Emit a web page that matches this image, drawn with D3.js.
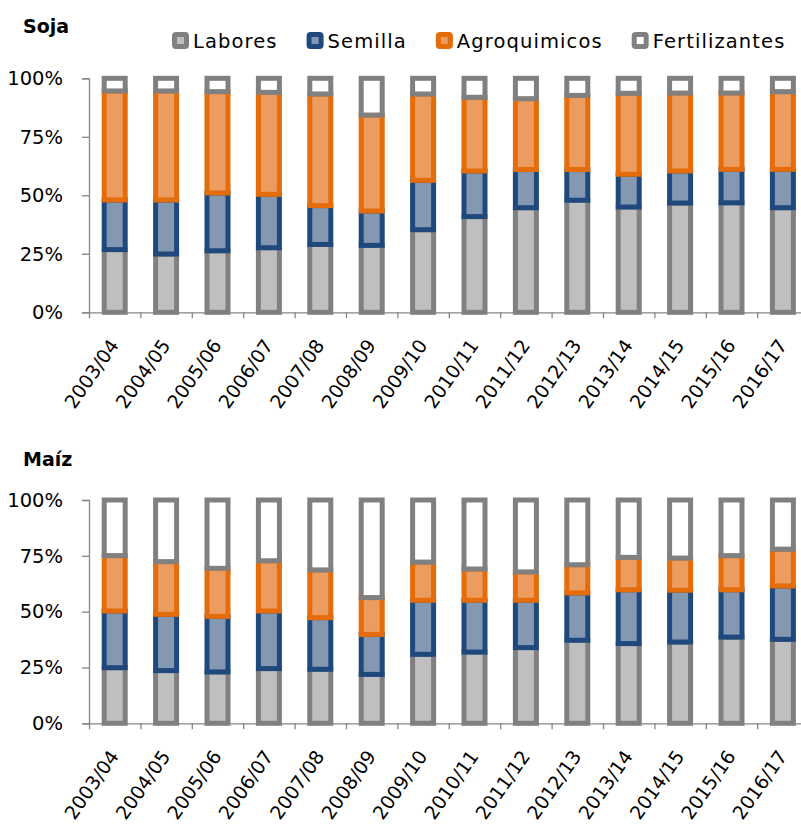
<!DOCTYPE html>
<html>
<head>
<meta charset="utf-8">
<script src="https://cdn.jsdelivr.net/npm/d3@7"></script>
<style>
  body { margin: 0; background: #fff; }
  svg { display: block; font-family: "DejaVu Sans", Verdana, sans-serif; }
</style>
</head>
<body>
<svg id="chart" width="801" height="825"></svg>
<script>
// Campaigns (x categories)
const campaigns = ["2003/04","2004/05","2005/06","2006/07","2007/08","2008/09","2009/10",
                   "2010/11","2011/12","2012/13","2013/14","2014/15","2015/16","2016/17"];

// Cost components, bottom to top
const components = ["Labores","Semilla","Agroquimicos","Fertilizantes"];

// Soja: share of each component (%)
const sojaLabores       = [26.8, 24.9, 26.3, 27.6, 29.0, 28.6, 35.3, 40.9, 44.7, 47.9, 45.0, 46.7, 46.8, 44.7];
const sojaSemilla       = [21.2, 23.1, 24.7, 22.8, 16.6, 14.7, 21.1, 19.5, 16.3, 13.1, 14.0, 13.7, 14.3, 16.4];
const sojaAgroquimicos  = [46.6, 46.6, 43.3, 43.6, 47.7, 41.0, 36.9, 31.5, 30.3, 31.7, 34.6, 33.3, 32.6, 33.2];
const sojaFertilizantes = [ 5.4,  5.4,  5.7,  6.0,  6.7, 15.7,  6.7,  8.1,  8.7,  7.3,  6.4,  6.3,  6.3,  5.7];

// Maíz: share of each component (%)
const maizLabores       = [24.9, 23.6, 23.0, 24.5, 24.2, 21.9, 30.9, 31.9, 33.9, 37.2, 35.7, 36.4, 38.6, 37.6];
const maizSemilla       = [25.4, 25.2, 24.9, 25.8, 23.1, 17.9, 24.2, 23.2, 21.2, 21.2, 24.1, 23.2, 21.2, 23.9];
const maizAgroquimicos  = [24.8, 23.6, 21.5, 22.5, 21.4, 16.5, 17.1, 14.0, 12.7, 12.6, 14.5, 14.4, 15.3, 16.5];
const maizFertilizantes = [24.9, 27.6, 30.6, 27.2, 31.3, 43.7, 27.8, 30.9, 32.2, 29.0, 25.7, 26.0, 24.9, 22.0];

// Y axis ticks
const yTicks = [0, 25, 50, 75, 100];

// Colours per component: border and fill
const strokeColors = ["#808080", "#1f497d", "#e46c0a", "#808080"];
const fillColors   = ["#bfbfbf", "#8598b2", "#eb9c5e", "#ffffff"];

const svg = d3.select("#chart");
const axisColor = "#868686";

function rows(lab, sem, agr, fer) {
  return campaigns.map((c, i) => ({
    campaign: c,
    Labores: lab[i], Semilla: sem[i], Agroquimicos: agr[i], Fertilizantes: fer[i]
  }));
}

const panels = [
  { title: "Soja", titleY: 33,  top: 78.3, bottom: 312.3,
    data: rows(sojaLabores, sojaSemilla, sojaAgroquimicos, sojaFertilizantes) },
  { title: "Maíz", titleY: 466, top: 500,  bottom: 723.3,
    data: rows(maizLabores, maizSemilla, maizAgroquimicos, maizFertilizantes) }
];

const left = 89, step = 51.4;
const x = d3.scaleBand().domain(campaigns).range([left, left + step * campaigns.length]).padding(0);
const xEdge = d3.scaleLinear().domain([0, campaigns.length]).range(x.range());
const barW = 21, barStroke = 5;

const stack = d3.stack().keys(components);

panels.forEach(p => {
  const y = d3.scaleLinear().domain([0, 100]).range([p.bottom, p.top]);
  const g = svg.append("g");

  g.append("text")
    .attr("x", 23).attr("y", p.titleY)
    .attr("font-size", 19).attr("font-weight", "bold").attr("fill", "#000")
    .text(p.title);

  // Y axis
  const yAxis = g.append("g")
    .attr("transform", `translate(${left},0)`)
    .call(d3.axisLeft(y).tickValues(yTicks).tickSize(7).tickPadding(19)
      .tickFormat(d => d + "%"));
  yAxis.selectAll("path, line").attr("stroke", axisColor).attr("stroke-width", 1.3);
  yAxis.selectAll("text").attr("font-size", 19.5).attr("fill", "#000")
    .attr("font-family", "DejaVu Sans, sans-serif");

  // X axis: ticks sit between campaigns
  const xAxis = g.append("g")
    .attr("transform", `translate(0,${p.bottom})`)
    .call(d3.axisBottom(xEdge).tickValues(d3.range(campaigns.length + 1))
      .tickSize(6).tickSizeOuter(0).tickFormat(""));
  xAxis.selectAll("path, line").attr("stroke", axisColor).attr("stroke-width", 1.3);

  // Campaign labels
  g.append("g").selectAll("text").data(campaigns).join("text")
    .attr("transform", d => `translate(${x(d) + x.bandwidth() / 2 + 5},${p.bottom + 33}) rotate(-55)`)
    .attr("text-anchor", "end")
    .attr("font-size", 19).attr("fill", "#000")
    .text(d => d);

  // Stacked bars
  const layers = stack(p.data);
  g.append("g").selectAll("g").data(layers).join("g")
    .attr("stroke", (d, i) => strokeColors[i])
    .attr("fill", (d, i) => fillColors[i])
    .attr("stroke-width", barStroke)
    .selectAll("rect").data(d => d).join("rect")
      .attr("x", d => x(d.data.campaign) + (x.bandwidth() - barW) / 2)
      .attr("width", barW)
      .attr("y", d => y(d[1]))
      .attr("height", d => y(d[0]) - y(d[1]));
});

// Legend
const legend = svg.append("g").attr("transform", "translate(172,0)");
let lx = 0;
components.forEach((name, i) => {
  const item = legend.append("g").attr("transform", `translate(${lx},0)`);
  item.append("rect")
    .attr("x", 2.5).attr("y", 34.5).attr("width", 12).attr("height", 12)
    .attr("rx", 1.5)
    .attr("fill", fillColors[i]).attr("stroke", strokeColors[i]).attr("stroke-width", 5);
  const t = item.append("text")
    .attr("x", 21).attr("y", 47.5)
    .attr("font-size", 19.5).attr("letter-spacing", 1.1).attr("fill", "#000")
    .text(name);
  lx += 21 + t.node().getComputedTextLength() + 29;
});
</script>
</body>
</html>
